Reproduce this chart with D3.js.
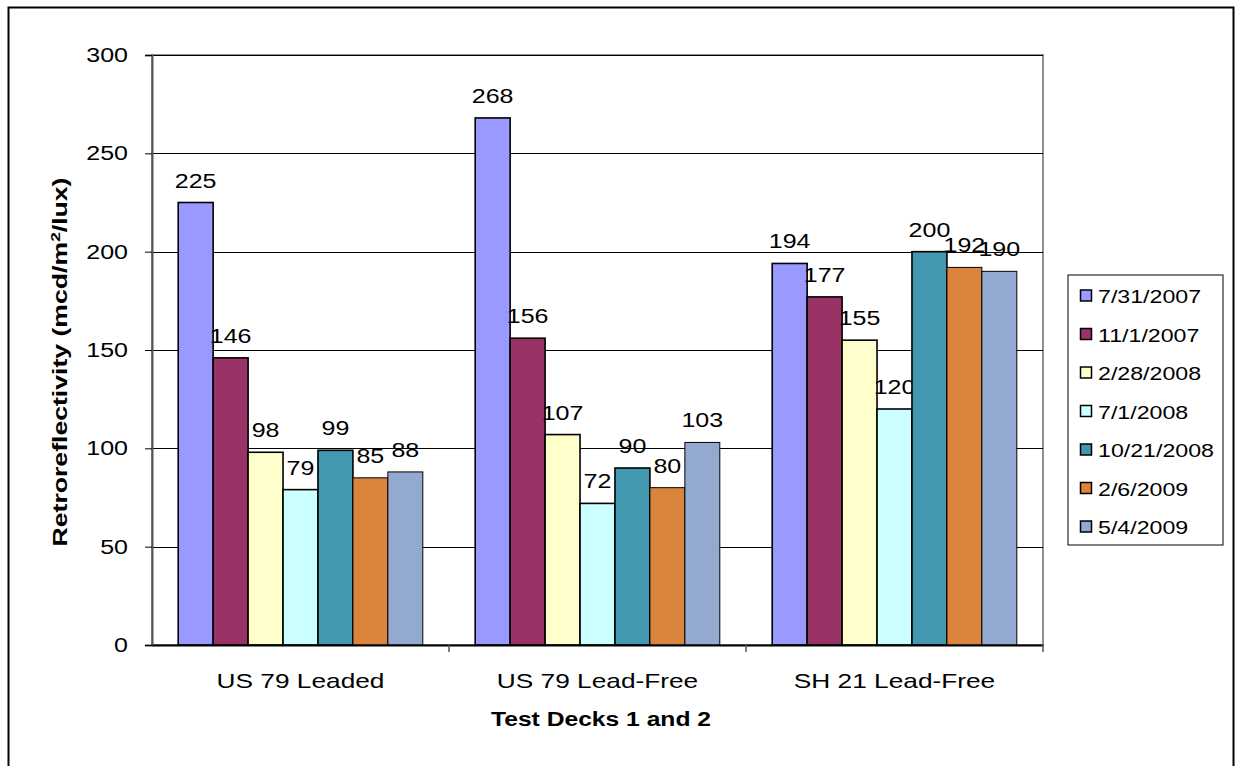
<!DOCTYPE html>
<html>
<head>
<meta charset="utf-8">
<script src="https://cdn.jsdelivr.net/npm/d3@7"></script>
<style>
  body { margin: 0; background: #fff; }
  svg { display: block; font-family: "Liberation Sans", Arial, sans-serif; }
</style>
</head>
<body>
<div id="chart"></div>
<script>
// categories and series
var categories = ['US 79 Leaded', 'US 79 Lead-Free', 'SH 21 Lead-Free'];
var dates = ['7/31/2007', '11/1/2007', '2/28/2008', '7/1/2008', '10/21/2008', '2/6/2009', '5/4/2009'];
// values per date, in category order
var v073107 = [225, 268, 194];
var v110107 = [146, 156, 177];
var v022808 = [98, 107, 155];
var v070108 = [79, 72, 120];
var v102108 = [99, 90, 200];
var v020609 = [85, 80, 192];
var v050409 = [88, 103, 190];
var yTicks = [0, 50, 100, 150, 200, 250, 300];
var colors = ['#9999ff', '#993366', '#ffffcc', '#ccffff', '#4198af', '#db843d', '#93a9cf'];

var series = [v073107, v110107, v022808, v070108, v102108, v020609, v050409];

var W = 1235, H = 766;
var FONT = '"Liberation Sans", Arial, sans-serif';
var svg = d3.select('#chart').append('svg').attr('width', W).attr('height', H);

// the original text is drawn wider than normal Arial
function stretch(sel, k) {
  sel.each(function() {
    var len = this.getComputedTextLength();
    d3.select(this).attr('textLength', len * k).attr('lengthAdjust', 'spacingAndGlyphs');
  });
}

// outer chart frame
svg.append('rect').attr('x', 8.5).attr('y', 7.5).attr('width', 1225).attr('height', 780)
  .attr('fill', '#fff').attr('stroke', '#000').attr('stroke-width', 2);

var plot = { left: 152, top: 55, right: 1043, bottom: 645 };

var x0 = d3.scaleBand().domain(categories).range([plot.left, plot.right]);
// gap width 150%
var x1 = d3.scaleBand().domain(d3.range(dates.length))
  .range([0, x0.bandwidth()]).paddingOuter(0.75).paddingInner(0);
var y = d3.scaleLinear().domain([0, 300]).range([plot.bottom, plot.top]);

// plot area border
svg.append('rect').attr('x', plot.left).attr('y', plot.top)
  .attr('width', plot.right - plot.left).attr('height', plot.bottom - plot.top)
  .attr('fill', 'none').attr('stroke', '#909090').attr('stroke-width', 2);

// gridlines
svg.append('g').selectAll('line').data(yTicks.filter(function(d) { return d > 0; }))
  .enter().append('line')
  .attr('x1', plot.left).attr('x2', plot.right)
  .attr('y1', function(d) { return Math.round(y(d)) + 0.5; })
  .attr('y2', function(d) { return Math.round(y(d)) + 0.5; })
  .attr('stroke', '#000').attr('stroke-width', 1);

// bars
var groups = svg.append('g').selectAll('g').data(series).enter().append('g')
  .attr('fill', function(d, i) { return colors[i]; });

groups.each(function(vals, si) {
  var g = d3.select(this);
  g.selectAll('rect').data(vals).enter().append('rect')
    .attr('x', function(d, ci) { return x0(categories[ci]) + x1(si); })
    .attr('y', function(d) { return y(d); })
    .attr('width', x1.bandwidth())
    .attr('height', function(d) { return y(0) - y(d); })
    .attr('stroke', '#000')
    .attr('stroke-width', si >= 5 ? 1 : 1.6);
  var lbl = g.selectAll('text').data(vals).enter().append('text')
    .attr('x', function(d, ci) { return x0(categories[ci]) + x1(si) + x1.bandwidth() / 2; })
    .attr('y', function(d) { return y(d) - 15; })
    .attr('text-anchor', 'middle')
    .attr('font-size', 20).attr('fill', '#000')
    .text(function(d) { return d; });
  stretch(lbl, 1.25);
});

// y axis
var yAxis = d3.axisLeft(y).tickValues(yTicks).tickSize(7).tickPadding(17);
var ya = svg.append('g').attr('transform', 'translate(' + plot.left + ',0)').call(yAxis);
ya.select('.domain').attr('stroke', '#555').attr('stroke-width', 2);
ya.selectAll('.tick line').attr('stroke', '#000');
ya.selectAll('.tick text').attr('font-size', 20).attr('fill', '#000').attr('font-family', FONT);
stretch(ya.selectAll('.tick text'), 1.25);

// x axis
var xAxis = d3.axisBottom(x0).tickSize(0).tickPadding(28);
var xa = svg.append('g').attr('transform', 'translate(0,' + plot.bottom + ')').call(xAxis);
xa.select('.domain').attr('stroke', '#000').attr('stroke-width', 2);
xa.selectAll('.tick text').attr('font-size', 21).attr('fill', '#000').attr('font-family', FONT);
stretch(xa.selectAll('.tick text'), 1.25);
// category separator ticks
svg.append('g').selectAll('line').data(categories)
  .enter().append('line')
  .attr('x1', function(d) { return x0(d) + x0.bandwidth(); })
  .attr('x2', function(d) { return x0(d) + x0.bandwidth(); })
  .attr('y1', plot.bottom).attr('y2', plot.bottom + 7)
  .attr('stroke', '#555').attr('stroke-width', 1.5);

// axis titles
svg.append('text').attr('x', 601).attr('y', 726)
  .attr('text-anchor', 'middle').attr('font-size', 20).attr('font-weight', 'bold')
  .attr('textLength', 220).attr('lengthAdjust', 'spacingAndGlyphs')
  .text('Test Decks 1 and 2');

var yt = svg.append('text').attr('transform', 'translate(67,362) rotate(-90)')
  .attr('text-anchor', 'middle').attr('font-size', 20).attr('font-weight', 'bold')
  .attr('textLength', 369).attr('lengthAdjust', 'spacingAndGlyphs');
yt.append('tspan').text('Retroreflectivity (mcd/m');
yt.append('tspan').attr('font-size', 13).attr('dy', -7).text('2');
yt.append('tspan').attr('dy', 7).text('/lux)');

// legend
var leg = svg.append('g').attr('transform', 'translate(1068,275)');
leg.append('rect').attr('x', 0).attr('y', 0).attr('width', 155).attr('height', 270)
  .attr('fill', '#fff').attr('stroke', '#000').attr('stroke-width', 1);
var items = leg.selectAll('g').data(dates).enter().append('g')
  .attr('transform', function(d, i) { return 'translate(0,' + (20.5 + i * 38.5) + ')'; });
items.append('rect').attr('x', 12.5).attr('y', -5.5).attr('width', 11).attr('height', 11)
  .attr('fill', function(d, i) { return colors[i]; })
  .attr('stroke', '#000').attr('stroke-width', 1.5);
var lt = items.append('text').attr('x', 30).attr('y', 7.5).attr('font-size', 19)
  .text(function(d) { return d; });
stretch(lt, 1.22);
</script>
</body>
</html>
